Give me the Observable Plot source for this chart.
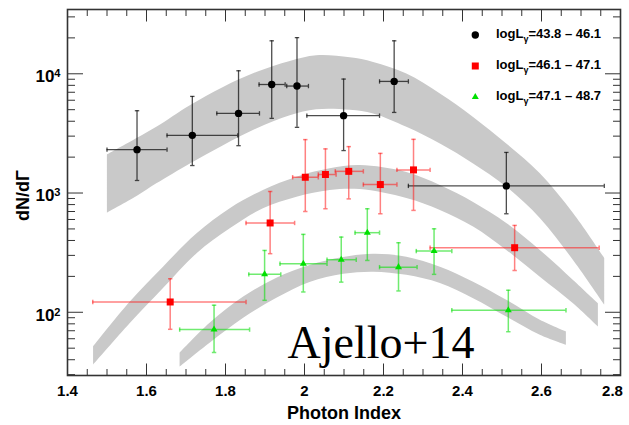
<!DOCTYPE html>
<html><head><meta charset="utf-8">
<script src="https://cdn.jsdelivr.net/npm/d3@7"></script>
<script src="https://cdn.jsdelivr.net/npm/@observablehq/plot@0.6"></script>
<style>
body{margin:0;background:#fff;}
#chart{position:relative;width:629px;height:425px;}
</style></head><body><div id="chart"></div>
<script>
// ---- data ----
const blackX   = [1.576, 1.716, 1.833, 1.917, 1.981, 2.099, 2.227, 2.511];
const blackXlo = [1.500, 1.652, 1.778, 1.885, 1.955, 2.006, 2.190, 2.263];
const blackXhi = [1.652, 1.831, 1.886, 1.951, 2.010, 2.190, 2.263, 2.759];
const blackY   = [2310, 3045, 4655, 8130, 7890, 4455, 8630, 1148];
const blackYlo = [1274, 1700, 2495, 4230, 3555, 2270, 4740, 670];
const blackYhi = [4900, 6460, 10600, 18900, 20100, 9030, 18900, 2190];

const redX   = [1.660, 1.913, 2.002, 2.053, 2.112, 2.192, 2.276, 2.532];
const redXlo = [1.464, 1.852, 1.970, 2.035, 2.078, 2.149, 2.234, 2.318];
const redXhi = [1.852, 1.975, 2.035, 2.080, 2.149, 2.234, 2.318, 2.746];
const redY   = [122, 561, 1356, 1430, 1520, 1178, 1563, 348];
const redYlo = [72, 310, 700, 738, 893, 670, 715, 224];
const redYhi = [191, 1030, 2805, 2345, 2450, 2150, 2820, 535];

const greenX   = [1.771, 1.899, 1.997, 2.093, 2.159, 2.238, 2.328, 2.516];
const greenXlo = [1.684, 1.859, 1.938, 2.057, 2.128, 2.190, 2.283, 2.373];
const greenXhi = [1.861, 1.940, 2.057, 2.131, 2.190, 2.285, 2.373, 2.662];
const greenY   = [71.6, 208, 255, 276, 465, 239, 326, 104];
const greenYlo = [46, 126, 148, 179, 272, 151, 208, 68.7];
const greenYhi = [114.6, 330, 450, 427, 738, 383, 501, 153];

const band1X  = [1.501, 1.576, 1.626, 1.711, 1.795, 1.879, 1.964, 2.031, 2.116, 2.175, 2.259, 2.344, 2.428, 2.512, 2.597, 2.681, 2.760];
const band1Lo = [678, 935, 1194, 1755, 2495, 3445, 4455, 5000, 4950, 4600, 3555, 2580, 1755, 1120, 612, 272, 115];
const band1Hi = [2080, 2860, 3560, 5400, 7680, 10250, 12680, 14160, 13600, 12440, 9940, 6760, 4300, 2580, 1450, 673, 283];

const band2X  = [1.466, 1.559, 1.643, 1.728, 1.812, 1.896, 1.981, 2.065, 2.141, 2.259, 2.344, 2.428, 2.512, 2.597, 2.681, 2.744];
const band2Lo = [36, 80.4, 158, 310, 501, 738, 923, 1050, 1069, 899, 715, 518, 330, 197, 118, 75.4];
const band2Hi = [51.3, 122, 239, 456, 738, 1050, 1356, 1595, 1700, 1486, 1156, 834, 556, 330, 185, 118];

const band3X  = [1.685, 1.761, 1.846, 1.930, 2.014, 2.099, 2.175, 2.259, 2.344, 2.428, 2.512, 2.597, 2.663];
const band3Lo = [34.7, 55.1, 89.1, 131, 178, 208, 217, 204, 174, 130, 91.4, 64.3, 53];
const band3Hi = [45.4, 80.9, 134, 193, 247, 288, 306, 290, 239, 179, 126, 85.7, 68.4];

const legendRanges = ["43.8 \u2013 46.1", "46.1 \u2013 47.1", "47.1 \u2013 48.7"];
const xTickLabels = ["1.4", "1.6", "1.8", "2", "2.2", "2.4", "2.6", "2.8"];
const yTickExps = [2, 3, 4];
const xTitle = "Photon Index";
const yTitle = "dN/d\u0393";
const note = "Ajello+14";

// ---- build rows ----
const rows = (X, Xlo, Xhi, Y, Ylo, Yhi) => X.map((x, i) => ({x, xlo: Xlo[i], xhi: Xhi[i], y: Y[i], ylo: Ylo[i], yhi: Yhi[i]}));
const black = rows(blackX, blackXlo, blackXhi, blackY, blackYlo, blackYhi);
const red = rows(redX, redXlo, redXhi, redY, redYlo, redYhi);
const green = rows(greenX, greenXlo, greenXhi, greenY, greenYlo, greenYhi);
const bandRows = (X, Lo, Hi) => X.map((x, i) => ({x, lo: Lo[i], hi: Hi[i]}));

const xTickValues = xTickLabels.map(Number);
const xMinor = d3.range(0, 29).map(i => +(1.4 + 0.05 * i).toFixed(2));
const yMajor = yTickExps.map(e => Math.pow(10, e));
const yMinor = [];
for (let e = 1; e <= 4; e++) for (let m = 2; m <= 9; m++) { const v = m * Math.pow(10, e); if (v >= 29.6 && v <= 34000) yMinor.push(v); }

const capH = {draw(ctx, size) { const r = Math.sqrt(size / Math.PI); ctx.moveTo(-r, 0); ctx.lineTo(r, 0); }};
const capV = {draw(ctx, size) { const r = Math.sqrt(size / Math.PI); ctx.moveTo(0, -r); ctx.lineTo(0, r); }};

function errMarks(data, color, opacity, width) {
  const s = {stroke: color, strokeOpacity: opacity, strokeWidth: width};
  return [
    Plot.ruleX(data, {x: "x", y1: "ylo", y2: "yhi", ...s}),
    Plot.ruleY(data, {y: "y", x1: "xlo", x2: "xhi", ...s}),
    Plot.dot(data, {x: "x", y: "ylo", symbol: capH, r: 2.2, ...s}),
    Plot.dot(data, {x: "x", y: "yhi", symbol: capH, r: 2.2, ...s}),
    Plot.dot(data, {x: "xlo", y: "y", symbol: capV, r: 2.2, ...s}),
    Plot.dot(data, {x: "xhi", y: "y", symbol: capV, r: 2.2, ...s})
  ];
}

const bandFill = "#c9c9c9";
const axisStroke = "#333";
const noText = () => "";
const xLabel = d => xTickLabels[xTickValues.findIndex(v => Math.abs(v - d) < 1e-9)];

const plot = Plot.plot({
  width: 629, height: 425,
  marginLeft: 67, marginRight: 9, marginTop: 9, marginBottom: 50,
  style: {fontFamily: "'Liberation Sans', Arial, sans-serif", fontSize: "15px", fontWeight: "bold", background: "white", color: "black"},
  x: {domain: [1.4, 2.8]},
  y: {type: "log", domain: [29.5, 34600]},
  marks: [
    Plot.areaY(bandRows(band1X, band1Lo, band1Hi), {x: "x", y1: "lo", y2: "hi", fill: bandFill, curve: "catmull-rom"}),
    Plot.areaY(bandRows(band2X, band2Lo, band2Hi), {x: "x", y1: "lo", y2: "hi", fill: bandFill, curve: "catmull-rom"}),
    Plot.areaY(bandRows(band3X, band3Lo, band3Hi), {x: "x", y1: "lo", y2: "hi", fill: bandFill, curve: "catmull-rom"}),
    ...errMarks(black, "#111", 0.75, 1.3),
    ...errMarks(red, "#ff1a1a", 0.55, 1.5),
    ...errMarks(green, "#11dd11", 0.6, 1.5),
    Plot.dot(black, {x: "x", y: "y", r: 3.7, fill: "black", symbol: "circle"}),
    Plot.dot(red, {x: "x", y: "y", r: 3.95, fill: "#ff0000", symbol: "square"}),
    Plot.dot(green, {x: "x", y: "y", r: 2.6, fill: "#00e000", symbol: "triangle"}),
    // ticks (inward, on all four sides)
    Plot.axisX(xMinor, {anchor: "bottom", tickSize: -6, tickFormat: noText, label: null, stroke: axisStroke}),
    Plot.axisX(xTickValues, {anchor: "bottom", tickSize: -11.5, tickFormat: noText, label: null, stroke: axisStroke}),
    Plot.axisX(xMinor, {anchor: "top", tickSize: -6, tickFormat: noText, label: null, stroke: axisStroke}),
    Plot.axisX(xTickValues, {anchor: "top", tickSize: -11.5, tickFormat: noText, label: null, stroke: axisStroke}),
    Plot.axisY(yMinor, {anchor: "left", tickSize: -8, tickFormat: noText, label: null, stroke: axisStroke}),
    Plot.axisY(yMajor, {anchor: "left", tickSize: -16, tickFormat: noText, label: null, stroke: axisStroke}),
    Plot.axisY(yMinor, {anchor: "right", tickSize: -8, tickFormat: noText, label: null, stroke: axisStroke}),
    Plot.axisY(yMajor, {anchor: "right", tickSize: -16, tickFormat: noText, label: null, stroke: axisStroke}),
    // tick labels
    Plot.axisX(xTickValues.slice(0, -1), {anchor: "bottom", tickSize: 0, tickPadding: 10, label: null, fontSize: 15, fontWeight: "bold", tickFormat: xLabel}),
    Plot.axisX(xTickValues.slice(-1), {anchor: "bottom", tickSize: 0, tickPadding: 10, dx: -8, label: null, fontSize: 15, fontWeight: "bold", tickFormat: xLabel}),
    Plot.axisY(yMajor, {anchor: "left", tickSize: 0, tickPadding: 7, dy: 3, label: null, fontSize: 17, fontWeight: "bold",
      tickFormat: d => "10^" + Math.round(Math.log10(d))}),
    Plot.frame({stroke: axisStroke, strokeWidth: 1.6}),
    // titles and note
    Plot.text([xTitle], {frameAnchor: "bottom", text: d => d, lineAnchor: "bottom", textAnchor: "middle", dy: 43.5, fontSize: 18, fontWeight: "bold"}),
    Plot.text([yTitle], {frameAnchor: "left", text: d => d, rotate: -90, textAnchor: "middle", lineAnchor: "middle", dx: -44, dy: 3, fontSize: 18, fontWeight: "bold"}),
    Plot.text([note], {frameAnchor: "bottom-left", text: d => d, textAnchor: "start", lineAnchor: "bottom", dx: 220, dy: -17.5, fontSize: 46,
      fontFamily: "'Liberation Serif', 'Times New Roman', serif", fontWeight: "normal"})
  ]
});

document.getElementById("chart").appendChild(plot);

// superscript exponents on the y tick labels
d3.select(plot).selectAll("text").each(function() {
  const t = this.textContent;
  const m = /^10\^(\d+)$/.exec(t);
  if (m) {
    const sel = d3.select(this);
    sel.text("10");
    sel.append("tspan").attr("dy", "-0.45em").attr("font-size", "0.65em").text(m[1]);
  }
});

// legend (inside the frame, top right)
const legendColors = ["black", "#ff0000", "#00e000"];
const legendSymbols = [d3.symbolCircle, d3.symbolSquare, d3.symbolTriangle];
const legendSizes = [Math.PI * 3.7 * 3.7, Math.PI * 3.95 * 3.95, Math.PI * 2.6 * 2.6];
const lg = d3.select(plot).append("g").attr("font-family", "'Liberation Sans', Arial, sans-serif").attr("font-weight", "bold").attr("text-anchor", "start");
legendRanges.forEach((r, i) => {
  const cy = 35 + 31 * i;
  lg.append("path").attr("transform", `translate(475.3,${cy})`)
    .attr("d", d3.symbol(legendSymbols[i], legendSizes[i])()).attr("fill", legendColors[i]);
  const t = lg.append("text").attr("x", 496).attr("y", cy + 2.5).attr("font-size", 13).attr("fill", "black").attr("text-anchor", "start");
  t.append("tspan").text("logL");
  t.append("tspan").attr("dy", 4.5).attr("font-size", 9).text("\u03b3");
  t.append("tspan").attr("dy", -4.5).text("=" + r);
});
</script></body></html>
